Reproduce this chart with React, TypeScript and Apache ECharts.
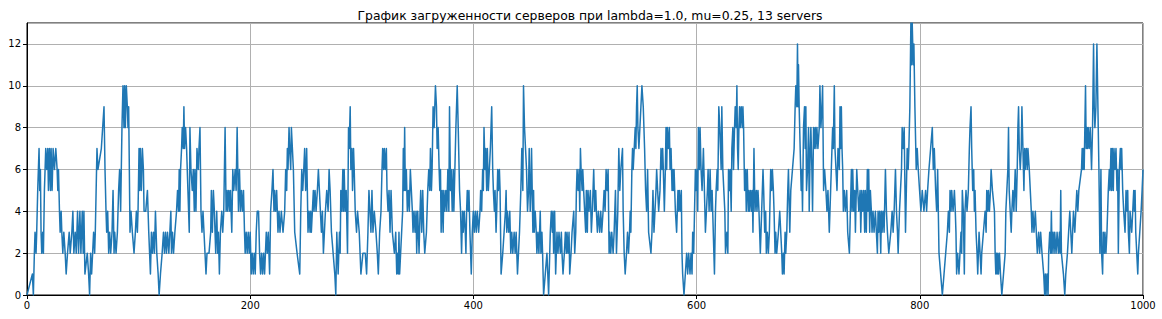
import React, { useEffect, useRef } from "react";
import * as echarts from "echarts";

const TITLE = "График загруженности серверов при lambda=1.0, mu=0.25, 13 servers";
const X_MIN = 0;
const X_MAX = 1000;
const X_STEP = 200;
const Y_MIN = 0;
const Y_MAX = 13;
const Y_STEP = 2;

// [time, busy servers]
const events000: [number, number][] = [
  [0, 0], [4.8, 1], [5.7, 0], [6.6, 2], [7.2, 3], [8.1, 2], [8.7, 3], [9.6, 5], [10.8, 7], [11.4, 5], [12.0, 6], [12.6, 3], [13.2, 2], [14.1, 3], [14.7, 2], [15.6, 5], [16.8, 7], [17.7, 6], [18.6, 7], [19.2, 5], [20.1, 7], [21.0, 5], [21.6, 7], [22.5, 5], [23.4, 7], [24.6, 6], [25.8, 7], [27.0, 6], [27.6, 5], [28.2, 6], [29.1, 4], [29.7, 3], [30.6, 4], [31.2, 3], [32.1, 2], [33.0, 3], [34.2, 2], [35.1, 1], [36.3, 2], [37.8, 3], [38.7, 2], [40.2, 3], [41.1, 4], [42.0, 2], [43.2, 3], [44.1, 2], [45.3, 4], [46.2, 2], [47.4, 4], [48.3, 2], [49.5, 4], [50.4, 2], [51.0, 4], [51.9, 1], [54.0, 2], [55.2, 1], [56.1, 0], [57.0, 2], [57.9, 1], [58.8, 2], [59.7, 3], [60.6, 2], [61.2, 3], [62.7, 7], [63.6, 6], [66.6, 7], [67.8, 8], [69.0, 9], [69.9, 6], [70.8, 4], [71.4, 3], [72.3, 4], [73.2, 2], [74.1, 3], [75.0, 2], [76.2, 3], [77.1, 5], [78.0, 2], [78.6, 3], [79.8, 2], [81.0, 3],
];
const events083: [number, number][] = [
  [82.1, 5], [83.0, 6], [83.9, 4], [84.5, 6], [85.1, 8], [86.0, 10], [86.9, 8], [87.5, 10], [88.1, 8], [89.0, 10], [89.9, 9], [90.5, 8], [91.1, 9], [91.7, 6], [92.3, 3], [93.2, 4], [94.4, 3], [95.9, 2], [97.1, 3], [98.0, 4], [98.9, 3], [99.5, 4], [100.4, 7], [101.0, 5], [101.6, 7], [102.5, 5], [103.4, 7], [104.3, 6], [104.9, 4], [106.4, 4], [107.9, 5], [109.1, 3], [110.6, 1], [111.5, 3], [112.4, 2], [113.3, 3], [114.2, 2], [115.1, 4], [116.3, 2], [117.5, 1], [118.4, 0], [119.6, 1], [121.1, 2], [122.3, 3], [123.2, 2], [124.1, 3], [125.0, 2], [125.9, 3], [127.1, 2], [128.9, 4], [129.5, 2], [130.4, 3], [131.3, 2], [132.5, 3], [134.0, 4], [134.9, 5], [135.8, 4], [136.4, 6], [137.0, 4], [137.6, 6], [138.5, 7], [139.1, 8], [140.0, 7], [140.6, 9], [141.2, 7], [142.1, 8], [143.0, 7], [144.2, 5], [145.4, 3], [146.0, 8], [146.9, 6], [148.1, 5], [149.0, 6], [149.9, 4], [150.5, 6], [151.4, 4], [152.3, 7], [153.5, 6], [154.1, 7], [155.0, 8], [155.9, 4], [156.8, 3], [157.7, 4], [158.6, 3], [159.5, 2], [160.4, 1], [161.3, 2], [163.1, 2], [164.6, 3],
];
const events165: [number, number][] = [
  [165.2, 5], [166.1, 3], [167.0, 5], [167.9, 4], [168.5, 3], [169.1, 2], [170.0, 4], [170.9, 2], [171.5, 3], [172.4, 1], [173.3, 3], [174.5, 4], [175.4, 3], [176.3, 4], [177.5, 8], [178.4, 4], [179.3, 5], [179.9, 4], [180.8, 5], [181.7, 4], [182.3, 5], [183.5, 3], [184.4, 6], [185.3, 5], [186.5, 6], [187.4, 5], [188.3, 8], [188.9, 6], [189.5, 4], [190.4, 6], [191.3, 4], [192.2, 5], [193.1, 4], [194.0, 5], [194.9, 3], [195.5, 2], [196.4, 3], [197.3, 2], [198.2, 3], [199.1, 2], [200.0, 3], [200.9, 1], [201.8, 2], [202.7, 1], [203.6, 2], [204.5, 1], [205.4, 3], [206.3, 4], [207.5, 4], [208.4, 2], [209.3, 1], [210.2, 2], [211.1, 1], [212.0, 2], [212.9, 1], [214.4, 3], [215.3, 2], [216.2, 3], [217.4, 1], [218.3, 4], [219.5, 5], [220.4, 6], [221.3, 4], [221.9, 5], [222.8, 4], [223.7, 5], [224.9, 3], [225.8, 4], [226.7, 3], [227.9, 4], [229.4, 3], [230.9, 4], [231.8, 6], [232.7, 5], [233.3, 7], [233.9, 6], [234.8, 8], [235.4, 7], [236.3, 6], [236.9, 8], [237.8, 7], [238.7, 6], [239.9, 3], [242.0, 2], [244.4, 1], [245.3, 4], [246.2, 6], [247.1, 5], [248.0, 6],
];
const events248: [number, number][] = [
  [248.8, 7], [249.7, 5], [250.6, 7], [251.2, 5], [251.8, 3], [252.7, 4], [253.6, 3], [254.2, 4], [254.8, 3], [255.7, 4], [256.6, 5], [257.2, 4], [258.1, 5], [259.0, 4], [260.2, 5], [261.1, 6], [262.0, 5], [262.9, 4], [263.8, 3], [264.7, 4], [265.6, 2], [266.5, 3], [267.4, 4], [268.6, 5], [269.8, 4], [270.7, 6], [271.6, 5], [272.8, 3], [274.3, 2], [275.8, 1], [276.7, 0], [277.6, 3], [278.8, 1], [280.0, 3], [280.6, 2], [281.2, 5], [282.1, 4], [283.0, 6], [283.6, 4], [284.2, 6], [285.1, 4], [286.0, 5], [287.2, 2], [288.1, 8], [288.7, 7], [289.6, 9], [290.2, 6], [291.1, 7], [291.7, 5], [292.6, 7], [293.2, 6], [294.1, 4], [295.3, 3], [296.2, 4], [297.7, 3], [299.2, 1], [301.0, 2], [303.1, 2], [304.3, 1], [305.5, 3], [306.4, 5], [307.3, 4], [308.2, 3], [309.1, 5], [310.0, 3], [311.2, 4], [312.7, 3], [313.9, 2], [314.8, 1], [316.0, 3], [317.2, 4], [318.1, 6], [318.7, 7], [319.6, 6], [320.2, 7], [321.1, 6], [322.0, 7], [322.6, 5], [323.5, 4], [324.4, 5], [325.3, 3], [326.2, 5], [327.4, 3], [329.2, 2], [330.4, 3], [331.3, 1],
];
const events332: [number, number][] = [
  [332.1, 2], [332.7, 1], [333.3, 3], [333.9, 1], [334.8, 2], [335.7, 3], [336.6, 4], [337.2, 7], [337.8, 5], [338.4, 8], [339.0, 5], [339.9, 6], [340.8, 4], [341.7, 5], [342.6, 4], [343.5, 6], [344.4, 5], [345.3, 4], [345.9, 3], [346.8, 4], [347.7, 3], [348.6, 4], [349.2, 2], [350.1, 4], [350.7, 3], [351.3, 2], [352.2, 4], [352.8, 5], [353.7, 3], [354.6, 5], [355.5, 3], [356.4, 2], [357.9, 3], [359.1, 5], [360.0, 6], [360.9, 5], [361.5, 7], [362.4, 5], [363.0, 6], [363.9, 9], [364.8, 8], [366.0, 10], [366.9, 9], [367.5, 7], [368.4, 8], [369.3, 6], [369.9, 5], [370.5, 6], [371.1, 3], [372.0, 5], [372.9, 3], [373.5, 5], [374.4, 4], [375.3, 5], [376.2, 4], [377.1, 6], [378.0, 4], [378.6, 9], [379.5, 5], [380.1, 6], [381.0, 4], [381.9, 6], [382.5, 4], [383.4, 6], [384.3, 8], [385.5, 10], [386.4, 8], [387.6, 5], [388.5, 4], [389.4, 2], [390.3, 4], [390.9, 3], [391.8, 4], [392.7, 3], [393.3, 2], [393.9, 4], [394.5, 5], [395.4, 4], [396.0, 5], [396.9, 3], [397.5, 2], [398.1, 1], [399.0, 3], [399.9, 4], [400.8, 3], [401.7, 4], [402.6, 3], [403.5, 4], [404.7, 3], [405.9, 4], [406.5, 5], [407.4, 4], [408.3, 6], [408.9, 5], [409.5, 8], [410.4, 6], [411.0, 7], [411.9, 5], [412.5, 7], [413.4, 5], [414.3, 6],
];
const events415: [number, number][] = [
  [415.2, 7], [415.8, 8], [416.4, 9], [417.3, 6], [417.9, 5], [418.8, 4], [419.4, 5], [420.3, 3], [420.9, 4], [421.8, 6], [422.4, 5], [423.3, 6], [423.9, 5], [424.8, 1], [426.3, 2], [427.5, 3], [428.7, 4], [429.3, 5], [429.9, 3], [430.5, 4], [431.7, 3], [432.6, 4], [433.5, 2], [434.4, 3], [435.3, 2], [436.5, 3], [437.4, 2], [438.3, 3], [439.5, 1], [441.3, 3], [442.5, 5], [443.4, 7], [444.3, 5], [444.9, 10], [445.8, 8], [446.7, 7], [447.6, 6], [448.5, 4], [449.4, 5], [450.0, 7], [450.9, 4], [451.5, 5], [452.1, 7], [452.7, 5], [453.3, 3], [453.9, 5], [454.5, 3], [455.4, 4], [456.3, 3], [456.9, 2], [457.8, 3], [458.7, 2], [459.9, 4], [460.5, 2], [461.4, 3], [462.0, 2], [462.9, 0], [464.4, 1], [465.9, 2], [467.4, 0], [468.9, 3], [469.8, 4], [470.7, 3], [471.3, 4], [471.9, 2], [472.8, 4], [473.7, 1], [474.9, 3], [475.8, 2], [476.7, 3], [477.9, 2], [478.8, 3], [479.4, 2], [480.3, 1], [481.5, 2], [482.4, 3], [483.3, 2], [483.9, 3], [484.8, 2], [485.7, 3], [486.3, 1], [487.5, 2], [488.4, 3], [489.9, 4], [490.8, 2], [491.7, 3], [492.3, 5], [492.9, 6], [493.8, 5], [494.7, 6], [495.3, 4], [495.9, 7], [496.5, 6], [497.4, 5], [498.0, 6],
];
const events498: [number, number][] = [
  [498.8, 5], [499.7, 4], [500.6, 3], [501.2, 5], [502.1, 3], [502.7, 5], [503.6, 4], [504.8, 5], [505.7, 3], [506.6, 4], [507.8, 6], [508.7, 4], [509.6, 5], [510.2, 4], [511.1, 3], [512.0, 4], [513.2, 3], [514.1, 4], [515.0, 3], [516.2, 4], [517.1, 5], [518.0, 4], [518.9, 6], [519.8, 5], [520.7, 6], [521.6, 2], [522.2, 3], [523.1, 2], [524.0, 3], [525.2, 2], [526.1, 3], [527.3, 5], [528.2, 2], [529.4, 4], [530.3, 7], [531.2, 5], [532.1, 6], [533.6, 7], [534.2, 4], [535.1, 2], [536.0, 1], [537.2, 2], [538.1, 3], [539.0, 2], [539.9, 3], [540.5, 4], [541.1, 3], [542.0, 6], [542.6, 7], [543.2, 6], [544.1, 7], [545.0, 8], [545.6, 7], [546.2, 9], [546.8, 10], [547.4, 8], [548.3, 7], [549.2, 8], [550.1, 9], [551.0, 10], [552.2, 9], [553.4, 7], [554.3, 5], [555.2, 4], [556.1, 6], [557.0, 3], [559.1, 2], [560.0, 3], [560.9, 5], [561.8, 3], [562.7, 4], [563.6, 5], [564.2, 6], [565.1, 5], [566.0, 4], [567.2, 5], [568.1, 7], [569.0, 6], [569.6, 7], [570.2, 6], [571.1, 4], [572.0, 6], [572.6, 8], [573.2, 6], [573.8, 8], [574.7, 7], [575.6, 8], [576.2, 6], [577.1, 7], [578.0, 5], [578.6, 6], [579.2, 5], [579.8, 6], [581.0, 4],
];
const events582: [number, number][] = [
  [582.1, 3], [583.3, 5], [583.9, 4], [584.5, 5], [585.4, 4], [586.3, 5], [586.9, 2], [587.5, 1], [588.7, 0], [589.9, 1], [591.1, 2], [592.0, 1], [592.9, 2], [594.1, 1], [595.0, 2], [595.9, 1], [596.5, 3], [597.4, 2], [598.9, 6], [599.5, 5], [600.4, 6], [601.0, 4], [601.6, 8], [602.5, 6], [603.1, 8], [604.0, 6], [604.9, 5], [606.1, 7], [607.0, 5], [607.9, 3], [608.8, 4], [609.7, 5], [610.3, 6], [611.2, 4], [612.1, 6], [613.0, 4], [613.9, 5], [616.0, 1], [616.9, 4], [617.5, 5], [618.4, 6], [619.0, 5], [619.9, 9], [620.8, 8], [621.4, 7], [622.0, 6], [622.6, 9], [623.5, 6], [624.4, 5], [625.3, 4], [625.9, 2], [627.1, 3], [628.0, 2], [628.6, 6], [629.5, 5], [630.1, 6], [631.0, 4], [631.6, 7], [632.5, 8], [633.1, 6], [634.0, 8], [634.6, 9], [635.5, 8], [636.1, 10], [636.7, 7], [637.3, 6], [637.9, 8], [638.5, 9], [639.1, 8], [640.0, 9], [640.9, 8], [641.5, 9], [642.1, 8], [643.0, 5], [643.9, 6], [644.5, 4], [645.4, 6], [646.3, 4], [646.9, 5], [647.5, 4], [648.4, 5], [649.3, 4], [649.9, 5], [650.5, 3], [651.4, 7], [652.3, 4], [653.5, 5], [654.1, 4], [655.0, 5], [655.9, 4], [656.5, 3], [657.1, 2], [658.3, 4], [659.5, 6], [660.1, 5], [661.0, 3], [661.9, 4], [662.5, 2], [663.4, 3], [664.3, 2],
];
const events665: [number, number][] = [
  [665.2, 3], [666.4, 6], [667.3, 5], [667.9, 6], [668.8, 5], [669.4, 4], [670.3, 2], [670.9, 3], [671.8, 2], [673.3, 3], [674.5, 4], [675.4, 3], [676.3, 2], [676.9, 1], [677.8, 2], [678.4, 1], [679.3, 3], [679.9, 2], [680.8, 3], [681.7, 5], [682.3, 6], [683.5, 3], [684.4, 5], [685.9, 6], [687.4, 7], [688.3, 9], [688.9, 10], [689.8, 9], [690.4, 12], [691.0, 9], [691.3, 11], [691.9, 9], [692.8, 7], [693.7, 5], [694.3, 6], [694.9, 4], [695.8, 8], [696.7, 9], [697.3, 7], [697.9, 9], [698.5, 5], [699.4, 6], [700.3, 8], [700.9, 4], [701.8, 7], [702.4, 8], [703.3, 6], [703.9, 4], [704.8, 8], [705.4, 7], [706.3, 8], [706.9, 7], [707.8, 8], [708.7, 7], [709.9, 8], [710.5, 10], [711.4, 8], [712.3, 9], [712.9, 10], [713.8, 5], [714.7, 6], [715.9, 5], [716.8, 4], [717.7, 5], [718.9, 3], [720.1, 5], [721.9, 8], [722.5, 7], [723.4, 10], [724.0, 7], [724.9, 6], [725.8, 5], [726.7, 7], [727.9, 6], [728.5, 9], [729.1, 7], [729.7, 9], [730.3, 7], [730.9, 6], [731.5, 4], [732.4, 5], [733.3, 4], [734.5, 5], [735.4, 3], [736.9, 2], [737.8, 4], [738.7, 6], [739.3, 4], [739.9, 6], [740.8, 4], [741.7, 5], [742.3, 3], [743.5, 6], [744.4, 5], [745.3, 4], [746.5, 5], [747.1, 3], [748.0, 5],
];
const events748: [number, number][] = [
  [748.8, 4], [749.7, 5], [750.6, 3], [751.2, 5], [752.1, 3], [753.0, 6], [753.6, 4], [754.2, 6], [755.1, 3], [755.7, 5], [756.6, 4], [757.2, 3], [758.1, 4], [759.0, 3], [760.2, 4], [761.1, 3], [762.0, 2], [762.6, 4], [763.2, 3], [764.1, 4], [765.0, 2], [765.6, 4], [766.2, 3], [767.1, 4], [768.0, 3], [769.2, 6], [770.1, 4], [771.0, 3], [772.2, 2], [774.0, 3], [775.2, 4], [776.1, 3], [777.0, 4], [777.6, 5], [778.2, 6], [779.1, 4], [780.0, 3], [780.6, 2], [781.8, 4], [782.7, 5], [783.6, 6], [784.2, 8], [785.1, 7], [786.0, 8], [787.2, 3], [788.7, 7], [789.6, 6], [790.2, 7], [791.1, 9], [792.0, 13], [792.6, 11], [793.2, 13], [794.1, 11], [794.7, 12], [795.6, 9], [796.8, 6], [797.7, 7], [798.6, 6], [799.8, 5], [801.0, 4], [802.2, 5], [803.7, 4], [805.2, 5], [806.1, 4], [807.0, 5], [808.2, 6], [809.7, 7], [811.2, 8], [812.1, 6], [813.0, 7], [814.2, 5], [815.1, 4], [816.0, 6], [817.2, 2], [818.7, 1], [820.2, 0], [821.7, 1], [823.2, 2], [824.7, 3], [825.6, 4], [826.5, 3], [827.1, 5], [828.0, 4], [828.6, 5], [829.8, 4], [831.0, 5],
];
const events832: [number, number][] = [
  [831.8, 4], [832.4, 3], [833.0, 1], [833.9, 2], [835.1, 1], [836.0, 2], [836.9, 3], [837.5, 2], [838.1, 5], [839.0, 4], [839.9, 1], [840.5, 4], [841.4, 5], [842.3, 4], [843.5, 5], [844.4, 7], [845.0, 8], [845.9, 9], [846.5, 7], [847.4, 5], [848.3, 6], [848.9, 4], [849.5, 5], [850.4, 3], [851.3, 2], [851.9, 1], [853.1, 3], [854.0, 2], [854.9, 1], [855.5, 2], [857.0, 3], [858.5, 4], [859.4, 3], [860.0, 5], [860.9, 4], [861.5, 5], [862.4, 4], [863.3, 5], [863.9, 6], [865.1, 5], [866.9, 4], [867.5, 2], [868.1, 1], [868.7, 2], [869.3, 1], [869.9, 2], [870.5, 1], [871.4, 2], [872.3, 1], [873.5, 0], [875.0, 1], [876.5, 2], [877.1, 4], [878.0, 5], [878.9, 6], [879.5, 8], [880.1, 5], [881.0, 4], [881.9, 3], [882.5, 4], [883.4, 5], [884.3, 4], [885.5, 6], [886.4, 4], [887.3, 6], [887.9, 8], [888.5, 9], [889.1, 7], [890.0, 6], [890.9, 7], [891.5, 9], [892.4, 7], [893.3, 5], [893.9, 7], [894.5, 6], [895.4, 7], [896.3, 6], [896.9, 7], [898.1, 6], [899.0, 5], [899.9, 4], [900.5, 3], [901.4, 4], [902.3, 3], [903.5, 4], [904.4, 3], [905.3, 2], [906.5, 3], [907.4, 2], [908.3, 3], [909.5, 2], [911.0, 1], [911.9, 0], [912.5, 1], [913.1, 0], [914.0, 1],
];
const events915: [number, number][] = [
  [914.9, 0], [915.5, 2], [916.4, 3], [917.3, 2], [917.9, 4], [918.5, 2], [919.4, 3], [920.3, 2], [920.9, 3], [922.1, 2], [923.0, 3], [924.2, 2], [925.1, 3], [925.7, 2], [926.3, 5], [926.9, 2], [928.7, 1], [929.9, 0], [930.8, 1], [932.3, 2], [934.4, 4], [935.3, 3], [936.2, 2], [937.7, 4], [938.9, 3], [939.8, 4], [940.7, 5], [941.6, 4], [942.5, 5], [944.9, 6], [945.5, 7], [946.1, 6], [946.7, 7], [947.3, 6], [948.5, 10], [949.1, 7], [949.7, 8], [950.3, 7], [950.9, 8], [951.8, 7], [952.7, 8], [953.3, 7], [953.9, 6], [954.8, 8], [955.7, 12], [956.3, 9], [956.9, 8], [957.8, 9], [958.7, 12], [959.3, 10], [959.9, 8], [960.5, 6], [961.4, 2], [962.3, 6], [962.9, 2], [963.8, 1], [964.4, 3], [965.3, 2], [965.9, 3], [966.8, 2], [967.7, 3], [968.9, 5], [969.8, 6], [970.4, 5], [971.3, 7], [971.9, 5], [972.5, 7], [973.4, 5], [974.0, 7], [974.9, 6], [975.8, 7], [976.7, 5], [977.3, 6], [977.9, 2], [978.8, 6], [979.7, 7], [980.3, 6], [980.9, 7], [981.8, 5], [982.7, 4], [983.9, 3], [984.8, 5], [985.7, 4], [986.3, 5], [986.9, 3], [987.8, 2], [988.4, 4], [989.9, 3], [990.8, 4], [991.7, 5], [992.3, 4], [992.9, 5], [993.5, 3], [994.4, 2], [995.3, 1], [995.9, 2], [997.1, 3], [998.3, 4], [999.2, 5], [1000, 6],
];

const allEvents: [number, number][] = [
  ...events000, ...events083, ...events165, ...events248, ...events332, ...events415,
  ...events498, ...events582, ...events665, ...events748, ...events832, ...events915,
];

const FONT = "DejaVu Sans";

export default function App() {
  const ref = useRef<HTMLDivElement>(null);
  useEffect(() => {
    const chart = echarts.init(ref.current!, null, { renderer: "svg" });
    chart.setOption({
      animation: false,
      backgroundColor: "#ffffff",
      title: {
        text: TITLE,
        left: 585,
        top: 4,
        textAlign: "center",
        textStyle: { fontFamily: FONT, fontSize: 12.4, fontWeight: "normal", color: "#000" },
      },
      grid: {
        left: 27,
        right: 19,
        top: 23,
        bottom: 24,
        show: true,
        borderColor: "#000",
        borderWidth: 1,
        backgroundColor: "transparent",
      },
      xAxis: {
        type: "value",
        min: X_MIN,
        max: X_MAX,
        interval: X_STEP,
        axisLine: { show: true, onZero: false, lineStyle: { color: "#000", width: 1 } },
        axisTick: { show: true, length: 4, lineStyle: { color: "#000" } },
        axisLabel: {
          fontFamily: FONT,
          fontSize: 10,
          color: "#000",
          margin: 5,
          formatter: (v: number) => String(v),
        },
        splitLine: { show: true, lineStyle: { color: "#b0b0b0", width: 1 } },
      },
      yAxis: {
        type: "value",
        min: Y_MIN,
        max: Y_MAX,
        interval: Y_STEP,
        axisLine: { show: true, onZero: false, lineStyle: { color: "#000", width: 1 } },
        axisTick: { show: true, length: 4, lineStyle: { color: "#000" } },
        axisLabel: {
          fontFamily: FONT,
          fontSize: 10,
          color: "#000",
          margin: 6,
          showMaxLabel: false,
          formatter: (v: number) => (v % Y_STEP === 0 ? String(v) : ""),
        },
        splitLine: { show: true, lineStyle: { color: "#b0b0b0", width: 1 } },
      },
      series: [
        {
          type: "line",
          data: allEvents,
          showSymbol: false,
          symbol: "none",
          silent: true,
          clip: true,
          lineStyle: { color: "#1f77b4", width: 1.5, join: "round" },
          itemStyle: { color: "#1f77b4" },
        },
      ],
    });
    return () => chart.dispose();
  }, []);
  return (
    <div
      ref={ref}
      style={{ position: "absolute", left: 0, top: 0, width: 1162, height: 319, background: "#fff" }}
    />
  );
}
